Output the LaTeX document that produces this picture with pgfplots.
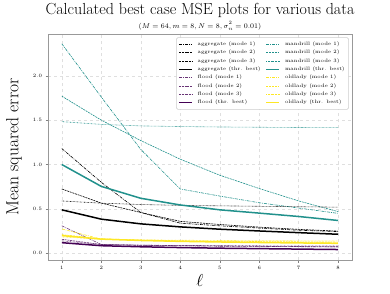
\documentclass[border=0pt]{standalone}
\usepackage{pgfplots}
\pgfplotsset{compat=1.18}
\definecolor{flood}{HTML}{440154}
\definecolor{mandrill}{HTML}{21918C}
\definecolor{oldlady}{HTML}{FDE725}
\tikzset{
  mone/.style={line width=0.6pt, dash pattern=on 3pt off 1pt on 0.8pt off 1pt},
  mtwo/.style={line width=0.6pt, dash pattern=on 2pt off 0.8pt},
  mthree/.style={line width=0.6pt, dash pattern=on 0.6pt off 0.8pt},
  best/.style={line width=1.5pt},
}
\begin{document}
\begin{tikzpicture}
\useasboundingbox (0,0) rectangle (390pt,293pt);
\node[font=\fontsize{16}{17}\selectfont, anchor=base, inner sep=0pt] at (200pt,278.5pt) {Calculated best case MSE plots for various data};
\node[font=\fontsize{7}{8}\selectfont, anchor=base, inner sep=0pt] at (200pt,265pt) {$(M=64, m=8, N=8, \sigma_n^2=0.01)$};
\begin{axis}[
  at={(48pt,33pt)}, anchor=south west,
  scale only axis, width=304pt, height=226pt,
  xmin=0.65, xmax=8.35, ymin=-0.075, ymax=2.47,
  xtick={1,...,8}, ytick={0,0.5,1,1.5,2},
  yticklabel style={/pgf/number format/.cd, fixed, fixed zerofill, precision=1},
  tick label style={font=\fontsize{5.3}{6}\selectfont},
  tick align=outside, tick pos=left,
  major tick length=2.5pt,
  every tick/.style={gray, line width=0.4pt},
  axis line style={gray!80, line width=0.9pt},
  grid=major, grid style={gray!25, dashed, line width=0.4pt},
  xlabel={$\ell$}, ylabel={Mean squared error},
  xlabel style={font=\fontsize{18}{20}\selectfont, at={(axis description cs:0.5,-0.05)}, anchor=north},
  ylabel style={font=\fontsize{17.5}{19}\selectfont, at={(axis description cs:-0.075,0.5)}, anchor=south},
  legend columns=2,
  legend style={at={(rel axis cs:0.99,0.985)}, anchor=north east,
    font=\fontsize{5}{6}\selectfont, draw=gray!40, rounded corners=1.5pt,
    line width=0.5pt, row sep=-0.9pt, column sep=3pt, inner sep=2pt},
  legend cell align=left,
  legend image post style={scale=0.75},
]
\addplot[black, mone] coordinates {(1,1.18)(2,0.80)(3,0.46)(4,0.34)(5,0.31)(6,0.285)(7,0.26)(8,0.245)};
\addlegendentry{aggregate (mode 1)}
\addplot[mandrill, mone] coordinates {(1,2.36)(2,1.76)(3,1.17)(4,0.725)(5,0.645)(6,0.57)(7,0.51)(8,0.45)};
\addlegendentry{mandrill (mode 1)}
\addplot[black, mtwo] coordinates {(1,0.725)(2,0.566)(3,0.46)(4,0.36)(5,0.325)(6,0.295)(7,0.27)(8,0.25)};
\addlegendentry{aggregate (mode 2)}
\addplot[mandrill, mtwo] coordinates {(1,1.77)(2,1.50)(3,1.27)(4,1.06)(5,0.88)(6,0.73)(7,0.59)(8,0.47)};
\addlegendentry{mandrill (mode 2)}
\addplot[black, mthree] coordinates {(1,0.59)(2,0.565)(3,0.55)(4,0.54)(5,0.535)(6,0.53)(7,0.525)(8,0.52)};
\addlegendentry{aggregate (mode 3)}
\addplot[mandrill, mthree] coordinates {(1,1.483)(2,1.452)(3,1.435)(4,1.428)(5,1.423)(6,1.42)(7,1.417)(8,1.415)};
\addlegendentry{mandrill (mode 3)}
\addplot[black, best] coordinates {(1,0.49)(2,0.385)(3,0.332)(4,0.298)(5,0.272)(6,0.252)(7,0.233)(8,0.215)};
\addlegendentry{aggregate (thr. best)}
\addplot[mandrill, best] coordinates {(1,1.0)(2,0.754)(3,0.62)(4,0.545)(5,0.49)(6,0.453)(7,0.415)(8,0.37)};
\addlegendentry{mandrill (thr. best)}
\addplot[flood!80, mone] coordinates {(1,0.31)(2,0.10)(3,0.09)(4,0.085)(5,0.08)(6,0.078)(7,0.075)(8,0.072)};
\addlegendentry{flood (mode 1)}
\addplot[oldlady, mone] coordinates {(1,0.275)(2,0.16)(3,0.145)(4,0.135)(5,0.13)(6,0.125)(7,0.12)(8,0.118)};
\addlegendentry{oldlady (mode 1)}
\addplot[flood!80, mtwo] coordinates {(1,0.158)(2,0.10)(3,0.092)(4,0.087)(5,0.083)(6,0.08)(7,0.077)(8,0.074)};
\addlegendentry{flood (mode 2)}
\addplot[oldlady, mtwo] coordinates {(1,0.21)(2,0.165)(3,0.15)(4,0.142)(5,0.137)(6,0.133)(7,0.13)(8,0.127)};
\addlegendentry{oldlady (mode 2)}
\addplot[flood!80, mthree] coordinates {(1,0.14)(2,0.098)(3,0.092)(4,0.089)(5,0.087)(6,0.085)(7,0.084)(8,0.083)};
\addlegendentry{flood (mode 3)}
\addplot[oldlady, mthree] coordinates {(1,0.185)(2,0.16)(3,0.152)(4,0.148)(5,0.145)(6,0.143)(7,0.141)(8,0.14)};
\addlegendentry{oldlady (mode 3)}
\addplot[flood, best] coordinates {(1,0.12)(2,0.086)(3,0.074)(4,0.065)(5,0.058)(6,0.053)(7,0.048)(8,0.043)};
\addlegendentry{flood (thr. best)}
\addplot[oldlady, best] coordinates {(1,0.20)(2,0.160)(3,0.145)(4,0.135)(5,0.128)(6,0.122)(7,0.117)(8,0.113)};
\addlegendentry{oldlady (thr. best)}
\end{axis}
\end{tikzpicture}
\end{document}
